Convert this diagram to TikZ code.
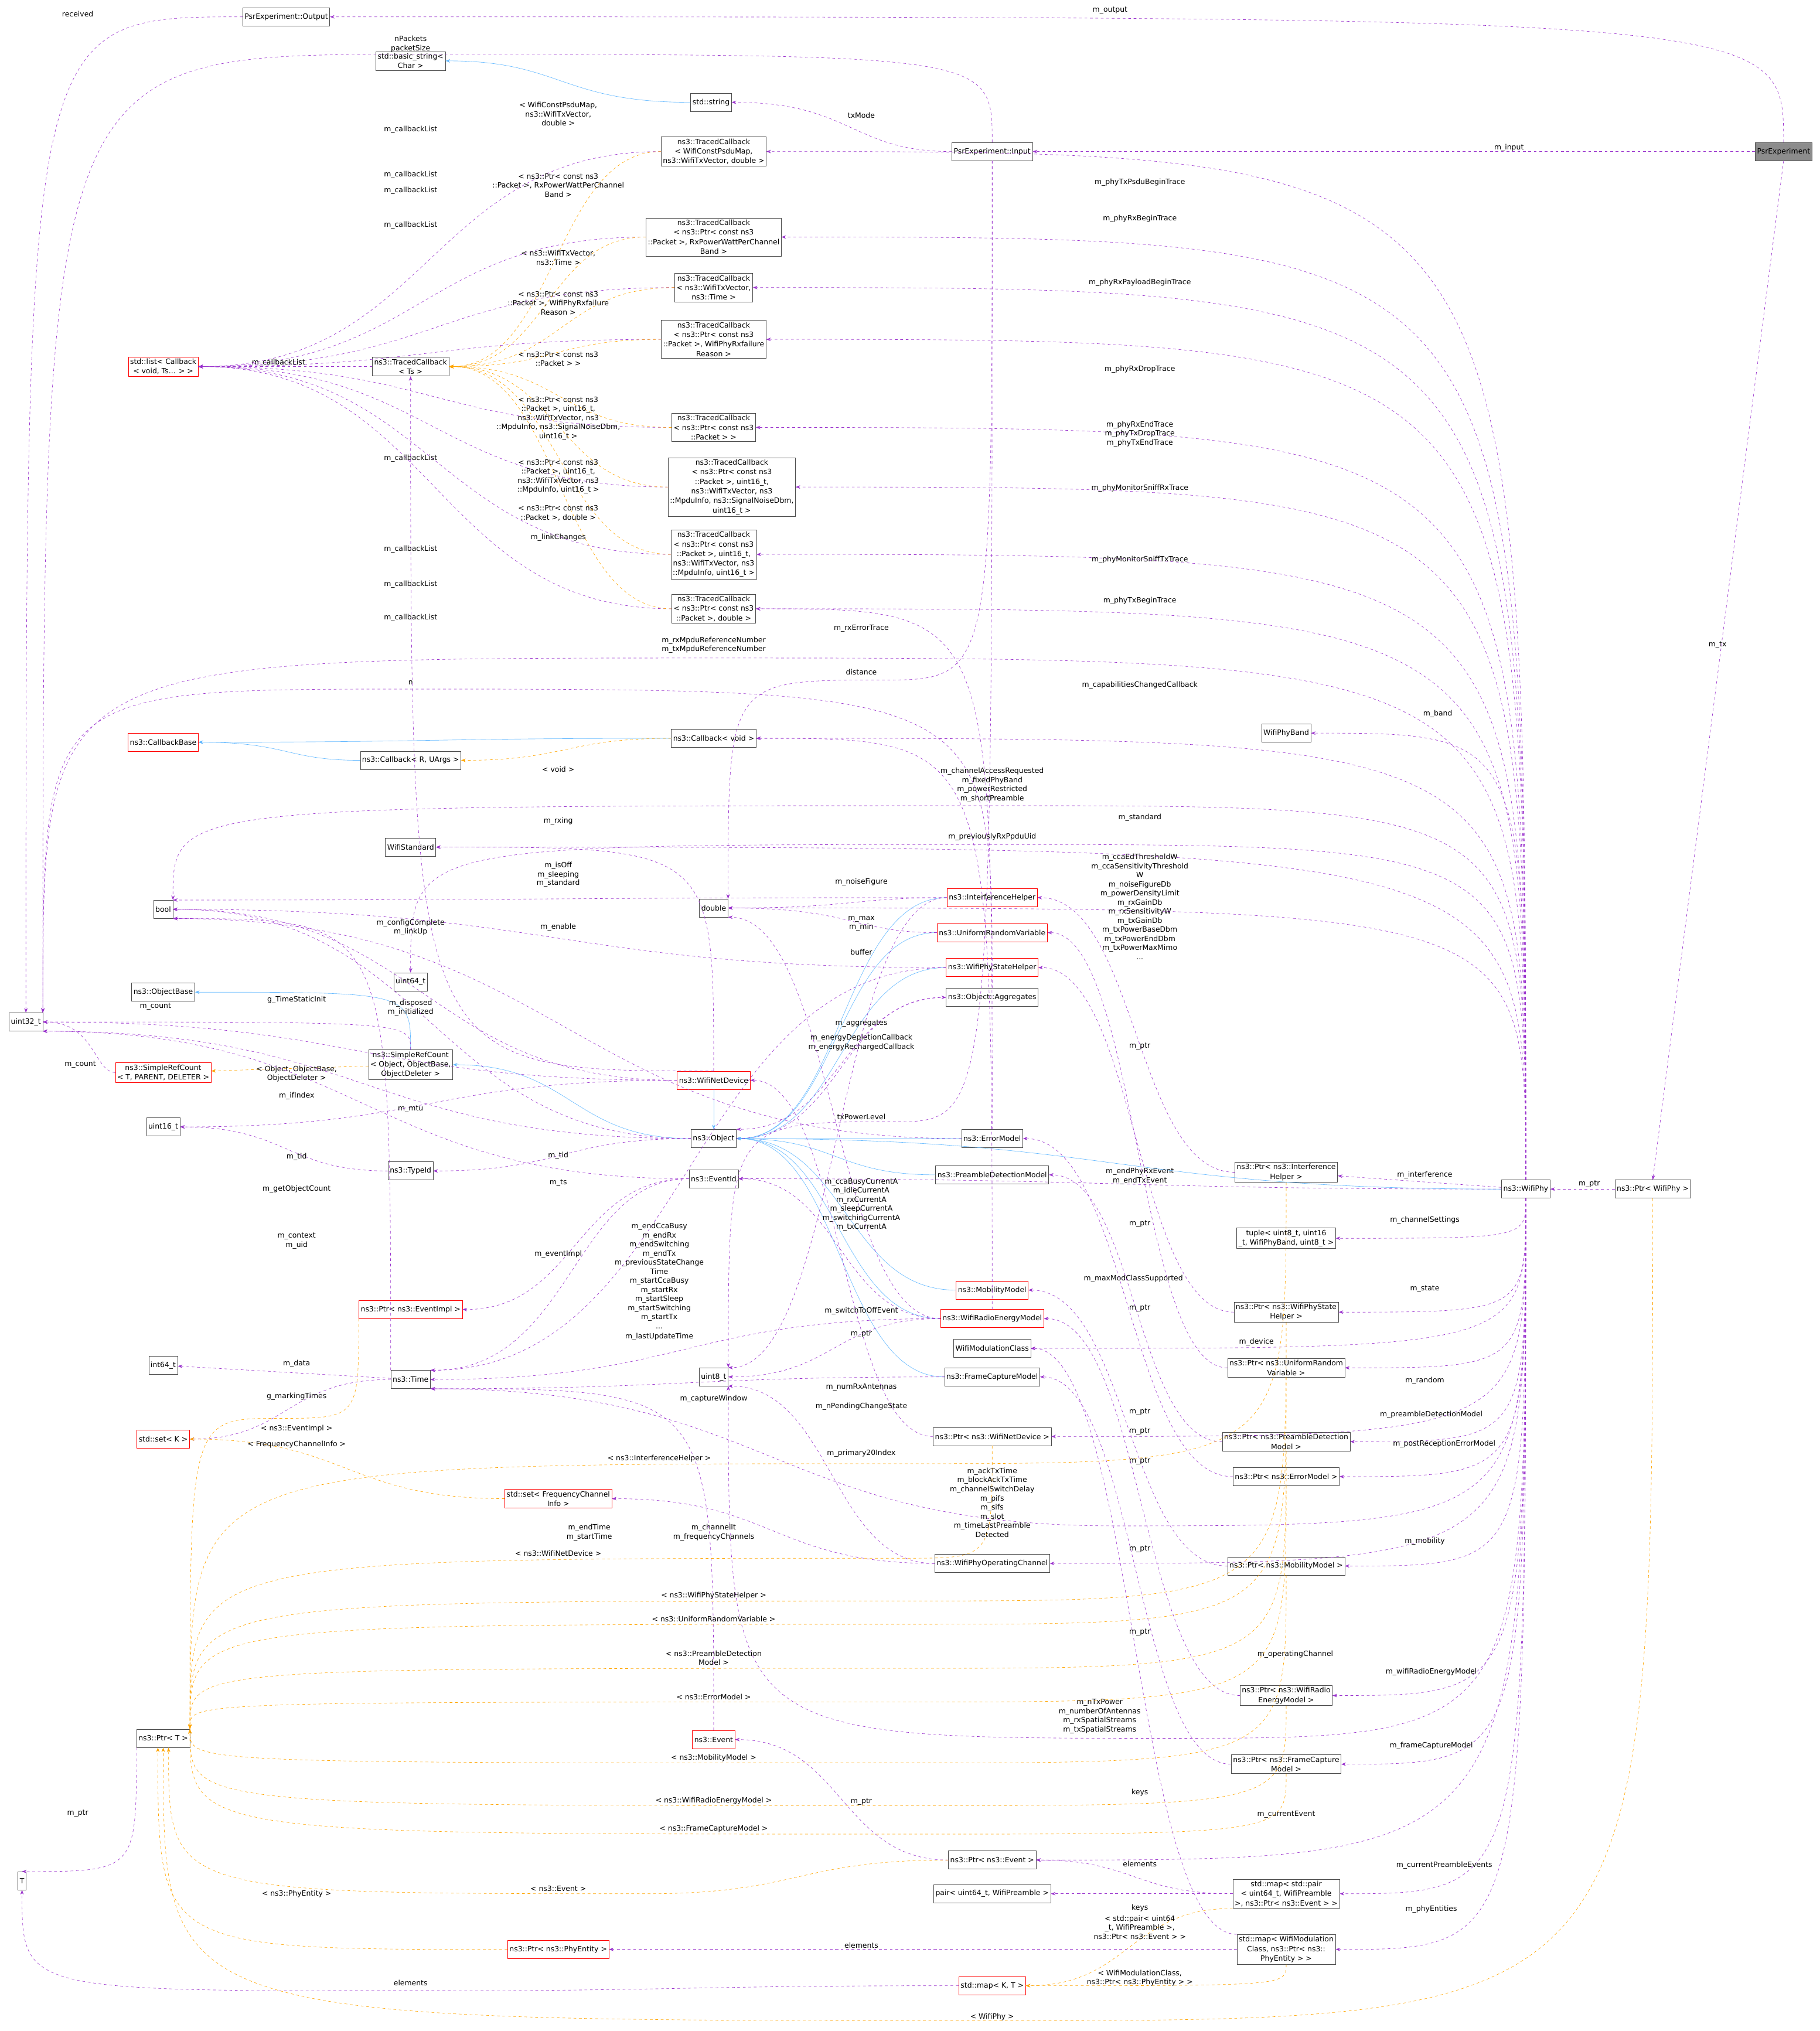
\documentclass[tikz,border=0pt]{standalone}
\usepackage{fontspec}
\setmainfont{DejaVu Sans}
\usetikzlibrary{arrows.meta,calc}
\definecolor{memcol}{HTML}{9A32CD}
\definecolor{tplcol}{HTML}{FFA500}
\definecolor{inhcol}{HTML}{63B8FF}
\begin{document}
\begin{tikzpicture}[x=0.05cm,y=-0.05cm,
  cls/.style={draw=black!70,fill=white,inner sep=2pt,align=center,minimum height=0.7cm,font=\fontsize{8}{10.5}\selectfont},
  redcls/.style={cls,draw=red},
  topcls/.style={cls,fill=black!45},
  lbl/.style={font=\fontsize{8}{10}\selectfont,align=center,inner sep=0pt},
  mem/.style={draw=memcol,dashed,-{Stealth[length=5pt]}},
  tpl/.style={draw=tplcol,dashed,-{Stealth[length=5pt]}},
  inh/.style={draw=inhcol,-{Stealth[length=5pt]}},
  hbend/.style={to path={let \p1=(\tikztostart),\p2=(\tikztotarget) in
    .. controls ({(\x1+\x2)/2},\y1) and ({(\x1+\x2)/2},\y2) .. (\tikztotarget)}},
  vbend/.style={to path={let \p1=(\tikztostart),\p2=(\tikztotarget) in
    .. controls (\x1,\y2) .. (\tikztotarget)}},
  hvbend/.style={to path={let \p1=(\tikztostart),\p2=(\tikztotarget) in
    .. controls (\x2,\y1) .. (\tikztotarget)}}]
\useasboundingbox (0,0) rectangle (1405,1568);

% classes
\node[topcls] (psr) at (1377,117) {PsrExperiment};
\node[cls] (psrout) at (221,13) {PsrExperiment::Output};
\node[cls] (psrin) at (766,117) {PsrExperiment::Input};
\node[cls] (bstr) at (317,47) {std::basic\_string\textless\\Char \textgreater};
\node[cls] (str) at (549,79) {std::string};
\node[cls] (tcpsdu) at (551,117) {ns3::TracedCallback\\\textless\ WifiConstPsduMap,\\ns3::WifiTxVector, double \textgreater};
\node[cls] (tcrxpow) at (551,183) {ns3::TracedCallback\\\textless\ ns3::Ptr\textless\ const ns3\\::Packet \textgreater, RxPowerWattPerChannel\\Band \textgreater};
\node[cls] (tctxv) at (551,222) {ns3::TracedCallback\\\textless\ ns3::WifiTxVector,\\ns3::Time \textgreater};
\node[cls] (tcfail) at (551,262) {ns3::TracedCallback\\\textless\ ns3::Ptr\textless\ const ns3\\::Packet \textgreater, WifiPhyRxfailure\\Reason \textgreater};
\node[redcls] (list) at (126,283) {std::list\textless\ Callback\\\textless\ void, Ts... \textgreater\ \textgreater};
\node[cls] (tcts) at (317,283) {ns3::TracedCallback\\\textless\ Ts \textgreater};
\node[cls] (tcpkt) at (551,330) {ns3::TracedCallback\\\textless\ ns3::Ptr\textless\ const ns3\\::Packet \textgreater\ \textgreater};
\node[cls] (tcsniffrx) at (565,376) {ns3::TracedCallback\\\textless\ ns3::Ptr\textless\ const ns3\\::Packet \textgreater, uint16\_t,\\ns3::WifiTxVector, ns3\\::MpduInfo, ns3::SignalNoiseDbm,\\uint16\_t \textgreater};
\node[cls] (tcsnifftx) at (551,428) {ns3::TracedCallback\\\textless\ ns3::Ptr\textless\ const ns3\\::Packet \textgreater, uint16\_t,\\ns3::WifiTxVector, ns3\\::MpduInfo, uint16\_t \textgreater};
\node[cls] (tcdbl) at (551,470) {ns3::TracedCallback\\\textless\ ns3::Ptr\textless\ const ns3\\::Packet \textgreater, double \textgreater};
\node[redcls] (cbbase) at (126,573) {ns3::CallbackBase};
\node[cls] (cbr) at (317,587) {ns3::Callback\textless\ R, UArgs \textgreater};
\node[cls] (cbvoid) at (551,570) {ns3::Callback\textless\ void \textgreater};
\node[cls] (phyband) at (993,566) {WifiPhyBand};
\node[cls] (stdwifi) at (317,654) {WifiStandard};
\node[cls] (bool) at (126,702) {bool};
\node[cls] (dbl) at (551,701) {double};
\node[redcls] (intf) at (766,693) {ns3::InterferenceHelper};
\node[redcls] (urv) at (766,720) {ns3::UniformRandomVariable};
\node[redcls] (sth) at (766,747) {ns3::WifiPhyStateHelper};
\node[cls] (aggr) at (766,770) {ns3::Object::Aggregates};
\node[cls] (u64) at (317,758) {uint64\_t};
\node[cls] (objbase) at (126,766) {ns3::ObjectBase};
\node[cls] (u32) at (20,789) {uint32\_t};
\node[redcls] (srct) at (126,828) {ns3::SimpleRefCount\\\textless\ T, PARENT, DELETER \textgreater};
\node[cls] (srcobj) at (317,822) {ns3::SimpleRefCount\\\textless\ Object, ObjectBase,\\ObjectDeleter \textgreater};
\node[redcls] (netdev) at (551,834) {ns3::WifiNetDevice};
\node[cls] (u16) at (126,870) {uint16\_t};
\node[cls] (obj) at (551,879) {ns3::Object};
\node[cls] (errm) at (766,879) {ns3::ErrorModel};
\node[cls] (typeid) at (317,904) {ns3::TypeId};
\node[cls] (eventid) at (551,910) {ns3::EventId};
\node[cls] (pdm) at (766,907) {ns3::PreambleDetectionModel};
\node[cls] (pintf) at (993,905) {ns3::Ptr\textless\ ns3::Interference\\Helper \textgreater};
\node[cls] (phy) at (1178,918) {ns3::WifiPhy};
\node[cls] (pphy) at (1276,918) {ns3::Ptr\textless\ WifiPhy \textgreater};
\node[cls] (tuple) at (993,956) {tuple\textless\ uint8\_t, uint16\\\_t, WifiPhyBand, uint8\_t \textgreater};
\node[redcls] (mob) at (766,996) {ns3::MobilityModel};
\node[redcls] (wrem) at (766,1018) {ns3::WifiRadioEnergyModel};
\node[cls] (psth) at (993,1013) {ns3::Ptr\textless\ ns3::WifiPhyState\\Helper \textgreater};
\node[redcls] (peimpl) at (317,1011) {ns3::Ptr\textless\ ns3::EventImpl \textgreater};
\node[cls] (wmc) at (766,1041) {WifiModulationClass};
\node[cls] (i64) at (126,1054) {int64\_t};
\node[cls] (time) at (317,1065) {ns3::Time};
\node[cls] (u8) at (551,1063) {uint8\_t};
\node[cls] (fcm) at (766,1063) {ns3::FrameCaptureModel};
\node[cls] (purv) at (993,1056) {ns3::Ptr\textless\ ns3::UniformRandom\\Variable \textgreater};
\node[redcls] (setk) at (126,1111) {std::set\textless\ K \textgreater};
\node[cls] (pnd) at (766,1109) {ns3::Ptr\textless\ ns3::WifiNetDevice \textgreater};
\node[cls] (ppdm) at (993,1113) {ns3::Ptr\textless\ ns3::PreambleDetection\\Model \textgreater};
\node[cls] (perr) at (993,1140) {ns3::Ptr\textless\ ns3::ErrorModel \textgreater};
\node[redcls] (setfci) at (431,1157) {std::set\textless\ FrequencyChannel\\Info \textgreater};
\node[cls] (opch) at (766,1207) {ns3::WifiPhyOperatingChannel};
\node[cls] (pmob) at (993,1209) {ns3::Ptr\textless\ ns3::MobilityModel \textgreater};
\node[cls] (ptrt) at (126,1342) {ns3::Ptr\textless\ T \textgreater};
\node[redcls] (event) at (551,1343) {ns3::Event};
\node[cls] (pwrem) at (993,1309) {ns3::Ptr\textless\ ns3::WifiRadio\\EnergyModel \textgreater};
\node[cls] (pfcm) at (993,1362) {ns3::Ptr\textless\ ns3::FrameCapture\\Model \textgreater};
\node[cls] (tt) at (17,1452) {T};
\node[cls] (pev) at (766,1436) {ns3::Ptr\textless\ ns3::Event \textgreater};
\node[cls] (pair) at (766,1462) {pair\textless\ uint64\_t, WifiPreamble \textgreater};
\node[cls] (mapev) at (993,1462) {std::map\textless\ std::pair\\\textless\ uint64\_t, WifiPreamble\\ \textgreater, ns3::Ptr\textless\ ns3::Event \textgreater\ \textgreater};
\node[redcls] (pphe) at (431,1505) {ns3::Ptr\textless\ ns3::PhyEntity \textgreater};
\node[cls] (mapmc) at (993,1505) {std::map\textless\ WifiModulation\\Class, ns3::Ptr\textless\ ns3::\\PhyEntity \textgreater\ \textgreater};
\node[redcls] (mapkt) at (766,1533) {std::map\textless\ K, T \textgreater};

% PsrExperiment members
\draw[mem] (psr.north) to[vbend] (psrout.east);
\draw[mem] (psr) -- (psrin);
\draw[mem] (psr.south) -- (pphy.north);
\draw[mem] (psrout.west) to[hvbend] (u32.north);
\draw[mem] (psrin.north) to[vbend] (317,42) to[hvbend] (u32.north east);
\draw[mem] (psrin) to[hbend] (str);
\draw[mem] (psrin.south) to[vbend] (680,525) to[hvbend] (dbl.north east);
\draw[mem] (psrin.south) to[vbend] (690,866) to[hvbend] (u8.north east);
\node[lbl] at (857,8) {m\_output};
\node[lbl] at (1165,114) {m\_input};
\node[lbl] at (1326,498) {m\_tx};
\node[lbl] at (60,11) {received};
\node[lbl] at (317,34) {nPackets\\packetSize};
\node[lbl] at (665,89) {txMode};
\node[lbl] at (665,519) {distance};
\node[lbl] at (665,862) {txPowerLevel};

% callback lists
\foreach \tc in {tcpsdu,tcrxpow,tctxv,tcfail,tcpkt,tcsniffrx,tcsnifftx,tcdbl}
  \draw[mem] (\tc.west) to[hbend] (list.east);
\draw[mem] (tcts) -- (list);
\node[lbl] at (317,100) {m\_callbackList};
\node[lbl] at (317,135) {m\_callbackList};
\node[lbl] at (317,147) {m\_callbackList};
\node[lbl] at (317,174) {m\_callbackList};
\node[lbl] at (215,280) {m\_callbackList};
\node[lbl] at (317,354) {m\_callbackList};
\node[lbl] at (317,424) {m\_callbackList};
\node[lbl] at (317,451) {m\_callbackList};
\node[lbl] at (317,477) {m\_callbackList};

% traced callback instances
\foreach \tc in {tcpsdu,tcrxpow,tctxv,tcfail,tcpkt,tcsniffrx,tcsnifftx,tcdbl}
  \draw[tpl] (\tc.west) to[hbend] (tcts.east);
\node[lbl] at (431,88) {\textless\ WifiConstPsduMap,\\ns3::WifiTxVector,\\double \textgreater};
\node[lbl] at (431,143) {\textless\ ns3::Ptr\textless\ const ns3\\::Packet \textgreater, RxPowerWattPerChannel\\Band \textgreater};
\node[lbl] at (431,199) {\textless\ ns3::WifiTxVector,\\ns3::Time \textgreater};
\node[lbl] at (431,234) {\textless\ ns3::Ptr\textless\ const ns3\\::Packet \textgreater, WifiPhyRxfailure\\Reason \textgreater};
\node[lbl] at (431,277) {\textless\ ns3::Ptr\textless\ const ns3\\::Packet \textgreater\ \textgreater};
\node[lbl] at (431,323) {\textless\ ns3::Ptr\textless\ const ns3\\::Packet \textgreater, uint16\_t,\\ns3::WifiTxVector, ns3\\::MpduInfo, ns3::SignalNoiseDbm,\\uint16\_t \textgreater};
\node[lbl] at (431,368) {\textless\ ns3::Ptr\textless\ const ns3\\::Packet \textgreater, uint16\_t,\\ns3::WifiTxVector, ns3\\::MpduInfo, uint16\_t \textgreater};
\node[lbl] at (431,396) {\textless\ ns3::Ptr\textless\ const ns3\\::Packet \textgreater, double \textgreater};

% WifiPhy members
\foreach \tgt in {tcpsdu,tcrxpow,tctxv,tcfail,tcpkt,tcsniffrx,tcsnifftx,tcdbl,cbvoid,phyband,stdwifi,dbl}
  \draw[mem] (phy.north) to[vbend] (\tgt.east);
\draw[mem] (phy.north) to[vbend] (551,508) to[hvbend] (u32.north east);
\draw[mem] (phy.north) to[vbend] (766,622) to[hvbend] (bool.north east);
\draw[mem] (phy.north) to[vbend] (766,652) to[hvbend] (u64.north);
\foreach \tgt in {tuple,wmc,psth,pnd,purv,ppdm,perr,pmob,opch,pwrem,pfcm,pev,mapev,mapmc}
  \draw[mem] (phy.south) to[vbend] (\tgt.east);
\draw[mem] (phy.south) to[vbend] (860,1178) to[hbend] (time.south east);
\draw[mem] (phy.south) to[vbend] (900,1342) to[hvbend] (u8.south east);
\draw[mem] (phy) -- (pintf);
\draw[mem] (phy.west) to[hbend] (eventid.east);
\node[lbl] at (880,141) {m\_phyTxPsduBeginTrace};
\node[lbl] at (880,169) {m\_phyRxBeginTrace};
\node[lbl] at (880,218) {m\_phyRxPayloadBeginTrace};
\node[lbl] at (880,285) {m\_phyRxDropTrace};
\node[lbl] at (880,335) {m\_phyRxEndTrace\\m\_phyTxDropTrace\\m\_phyTxEndTrace};
\node[lbl] at (880,377) {m\_phyMonitorSniffRxTrace};
\node[lbl] at (880,432) {m\_phyMonitorSniffTxTrace};
\node[lbl] at (880,464) {m\_phyTxBeginTrace};
\node[lbl] at (551,498) {m\_rxMpduReferenceNumber\\m\_txMpduReferenceNumber};
\node[lbl] at (880,529) {m\_capabilitiesChangedCallback};
\node[lbl] at (1110,551) {m\_band};
\node[lbl] at (766,606) {m\_channelAccessRequested\\m\_fixedPhyBand\\m\_powerRestricted\\m\_shortPreamble};
\node[lbl] at (880,631) {m\_standard};
\node[lbl] at (766,646) {m\_previouslyRxPpduUid};
\node[lbl] at (880,700) {m\_ccaEdThresholdW\\m\_ccaSensitivityThreshold\\W\\m\_noiseFigureDb\\m\_powerDensityLimit\\m\_rxGainDb\\m\_rxSensitivityW\\m\_txGainDb\\m\_txPowerBaseDbm\\m\_txPowerEndDbm\\m\_txPowerMaxMimo\\...};
\node[lbl] at (1100,907) {m\_interference};
\node[lbl] at (1100,942) {m\_channelSettings};
\node[lbl] at (875,987) {m\_maxModClassSupported};
\node[lbl] at (1100,995) {m\_state};
\node[lbl] at (970,1036) {m\_device};
\node[lbl] at (1100,1066) {m\_random};
\node[lbl] at (1105,1092) {m\_preambleDetectionModel};
\node[lbl] at (1115,1115) {m\_postReceptionErrorModel};
\node[lbl] at (1100,1190) {m\_mobility};
\node[lbl] at (766,1160) {m\_ackTxTime\\m\_blockAckTxTime\\m\_channelSwitchDelay\\m\_pifs\\m\_sifs\\m\_slot\\m\_timeLastPreamble\\Detected};
\node[lbl] at (1000,1277) {m\_operatingChannel};
\node[lbl] at (1105,1291) {m\_wifiRadioEnergyModel};
\node[lbl] at (849,1325) {m\_nTxPower\\m\_numberOfAntennas\\m\_rxSpatialStreams\\m\_txSpatialStreams};
\node[lbl] at (1105,1348) {m\_frameCaptureModel};
\node[lbl] at (993,1401) {m\_currentEvent};
\node[lbl] at (1115,1440) {m\_currentPreambleEvents};
\node[lbl] at (1105,1474) {m\_phyEntities};
\node[lbl] at (880,908) {m\_endPhyRxEvent\\m\_endTxEvent};
\draw[mem] (pphy) -- (phy);
\node[lbl] at (1227,914) {m\_ptr};
\draw[tpl] (pphy.south) to[vbend] (766,1560) to[hvbend] (ptrt.south);
\node[lbl] at (766,1557) {\textless\ WifiPhy \textgreater};

% inheritance
\draw[inh] (str) to[hbend] (bstr);
\draw[inh] (cbr) to[hbend] (cbbase);
\draw[inh] (cbvoid.west) to[hbend] (cbbase.east);
\draw[inh] (srcobj.north) to[vbend] (objbase.east);
\draw[inh] (obj.west) to[hbend] (srcobj.east);
\draw[inh] (netdev) -- (obj);
\foreach \sub in {intf,urv,sth,errm,pdm,mob,wrem,fcm,phy}
  \draw[inh] (\sub.west) to[hbend] (obj.east);

% callbacks
\draw[tpl] (cbvoid.west) to[hbend] (cbr.east);
\node[lbl] at (431,594) {\textless\ void \textgreater};
\draw[mem] (wrem.north) to[vbend] (cbvoid.east);
\node[lbl] at (665,805) {m\_energyDepletionCallback\\m\_energyRechargedCallback};

% object core
\draw[mem] (srct) to[hbend] (u32);
\node[lbl] at (62,822) {m\_count};
\draw[mem] (srcobj.north) to[vbend] (u32.east);
\node[lbl] at (120,777) {m\_count};
\draw[tpl] (srcobj) -- (srct);
\node[lbl] at (229,829) {\textless\ Object, ObjectBase,\\ObjectDeleter \textgreater};
\draw[mem] (obj.west) to[hbend] (bool.east);
\node[lbl] at (317,778) {m\_disposed\\m\_initialized};
\draw[mem] (obj.west) to[hbend] (u32.south east);
\node[lbl] at (229,918) {m\_getObjectCount};
\draw[mem] (obj) to[hbend] (typeid);
\node[lbl] at (431,892) {m\_tid};
\draw[mem] (obj.east) to[hbend] (aggr.west);
\node[lbl] at (665,790) {m\_aggregates};
\draw[mem] (aggr.north) to[vbend] (317,532) to[hvbend] (u32.north east);
\node[lbl] at (317,527) {n};
\draw[mem] (aggr.west) to[hbend] (obj.north east);
\node[lbl] at (665,735) {buffer};
\draw[mem] (typeid) to[hbend] (u16);
\node[lbl] at (229,893) {m\_tid};
\draw[mem] (time.north west) to[vbend] (bool.south east);
\node[lbl] at (229,772) {g\_TimeStaticInit};
\draw[mem] (time) -- (i64);
\node[lbl] at (229,1053) {m\_data};
\draw[mem] (time) to[hbend] (setk);
\node[lbl] at (229,1078) {g\_markingTimes};

% net device
\draw[mem] (netdev.west) to[hbend] (u16.east);
\node[lbl] at (317,856) {m\_mtu};
\draw[mem] (netdev.west) to[hbend] (u32.east);
\node[lbl] at (229,846) {m\_ifIndex};
\draw[mem] (netdev.west) to[hbend] (bool.east);
\node[lbl] at (317,716) {m\_configComplete\\m\_linkUp};
\draw[mem] (netdev.north) to[vbend] (stdwifi.east);
\node[lbl] at (431,682) {m\_standard};
\draw[mem] (netdev.north) to[hvbend] (tcts.south);
\node[lbl] at (431,415) {m\_linkChanges};

% helpers
\draw[mem] (intf.west) to[hbend] (bool.north east);
\node[lbl] at (431,634) {m\_rxing};
\draw[mem] (sth.west) to[hbend] (bool.east);
\node[lbl] at (431,672) {m\_isOff\\m\_sleeping};
\draw[mem] (errm.west) to[hbend] (bool.south east);
\node[lbl] at (431,716) {m\_enable};
\draw[mem] (intf) to[hbend] (dbl);
\node[lbl] at (665,681) {m\_noiseFigure};
\draw[mem] (urv) to[hbend] (dbl);
\node[lbl] at (665,713) {m\_max\\m\_min};
\draw[mem] (errm.north) to[vbend] (tcdbl.east);
\node[lbl] at (665,485) {m\_rxErrorTrace};
\draw[mem] (wrem.west) to[hbend] (dbl.south east);
\node[lbl] at (665,930) {m\_ccaBusyCurrentA\\m\_idleCurrentA\\m\_rxCurrentA\\m\_sleepCurrentA\\m\_switchingCurrentA\\m\_txCurrentA};
\draw[mem] (sth.west) to[hbend] (time.north east);
\node[lbl] at (509,985) {m\_endCcaBusy\\m\_endRx\\m\_endSwitching\\m\_endTx\\m\_previousStateChange\\Time\\m\_startCcaBusy\\m\_startRx\\m\_startSleep\\m\_startSwitching\\m\_startTx\\...};
\draw[mem] (wrem.west) to[hbend] (eventid.east);
\node[lbl] at (665,1012) {m\_switchToOffEvent};
\draw[mem] (wrem.west) to[hbend] (time.east);
\node[lbl] at (509,1032) {m\_lastUpdateTime};
\draw[mem] (wrem.west) to[hbend] (u8.east);
\node[lbl] at (665,1086) {m\_nPendingChangeState};
\draw[mem] (intf.west) to[hbend] (u8.north east);
\node[lbl] at (665,1071) {m\_numRxAntennas};
\draw[mem] (fcm.west) to[hbend] (time.south east);
\node[lbl] at (551,1080) {m\_captureWindow};
\draw[mem] (opch.west) to[hbend] (u8.south east);
\node[lbl] at (665,1122) {m\_primary20Index};
\draw[mem] (opch.west) to[hbend] (setfci.east);
\node[lbl] at (551,1183) {m\_channelIt\\m\_frequencyChannels};
\draw[tpl] (setfci.west) to[hbend] (setk.east);
\node[lbl] at (229,1115) {\textless\ FrequencyChannelInfo \textgreater};

% events
\draw[mem] (eventid.west) to[hbend] (peimpl.east);
\node[lbl] at (431,968) {m\_eventImpl};
\draw[mem] (eventid.west) to[hbend] (u32.south east);
\node[lbl] at (229,958) {m\_context\\m\_uid};
\draw[mem] (eventid) to[hbend] (time.north east);
\node[lbl] at (431,913) {m\_ts};
\draw[mem] (event.north) to[vbend] (time.south east);
\node[lbl] at (455,1183) {m\_endTime\\m\_startTime};
\draw[mem] (pev.west) to[hbend] (event.east);
\node[lbl] at (665,1391) {m\_ptr};
\draw[tpl] (peimpl.south west) to[vbend] (215,1095) to[hvbend] (ptrt.north east);
\node[lbl] at (229,1103) {\textless\ ns3::EventImpl \textgreater};

% smart pointers
\foreach \p/\c in {pintf/intf,psth/sth,purv/urv,ppdm/pdm,perr/errm,pmob/mob,pwrem/wrem,pfcm/fcm}
  \draw[mem] (\p.west) to[hbend] (\c.east);
\draw[mem] (pnd.west) to[hbend] (netdev.east);
\node[lbl] at (880,808) {m\_ptr};
\node[lbl] at (880,945) {m\_ptr};
\node[lbl] at (880,1010) {m\_ptr};
\node[lbl] at (880,1090) {m\_ptr};
\node[lbl] at (880,1105) {m\_ptr};
\node[lbl] at (880,1128) {m\_ptr};
\node[lbl] at (880,1196) {m\_ptr};
\node[lbl] at (880,1260) {m\_ptr};
\node[lbl] at (665,1030) {m\_ptr};
\foreach \p/\ly in {pintf/1130,pnd/1203,psth/1236,purv/1254,ppdm/1288,perr/1314,pmob/1361,pwrem/1394,pfcm/1416}
  \draw[tpl] (\p.south) to[vbend] (700,\ly) to[hvbend] (ptrt.north east);
\draw[tpl] (pev.west) to[hbend] (500,1462) to[hvbend] (ptrt.-60);
\draw[tpl] (pphe.west) to[hvbend] (ptrt.-120);
\node[lbl] at (509,1126) {\textless\ ns3::InterferenceHelper \textgreater};
\node[lbl] at (431,1199) {\textless\ ns3::WifiNetDevice \textgreater};
\node[lbl] at (551,1232) {\textless\ ns3::WifiPhyStateHelper \textgreater};
\node[lbl] at (551,1250) {\textless\ ns3::UniformRandomVariable \textgreater};
\node[lbl] at (551,1280) {\textless\ ns3::PreambleDetection\\Model \textgreater};
\node[lbl] at (551,1310) {\textless\ ns3::ErrorModel \textgreater};
\node[lbl] at (551,1357) {\textless\ ns3::MobilityModel \textgreater};
\node[lbl] at (551,1390) {\textless\ ns3::WifiRadioEnergyModel \textgreater};
\node[lbl] at (551,1412) {\textless\ ns3::FrameCaptureModel \textgreater};
\node[lbl] at (431,1458) {\textless\ ns3::Event \textgreater};
\node[lbl] at (229,1462) {\textless\ ns3::PhyEntity \textgreater};

% maps
\draw[mem] (mapev.west) to[hbend] (pev.east);
\node[lbl] at (880,1439) {elements};
\draw[mem] (mapev.west) to[hbend] (pair.east);
\node[lbl] at (880,1473) {keys};
\draw[tpl] (mapev.south west) to[hbend] (mapkt.east);
\node[lbl] at (880,1488) {\textless\ std::pair\textless\ uint64\\\_t, WifiPreamble \textgreater,\\ns3::Ptr\textless\ ns3::Event \textgreater\ \textgreater};
\draw[mem] (mapmc.west) to[hbend] (pphe.east);
\node[lbl] at (665,1502) {elements};
\draw[mem] (mapmc.north west) to[hbend] (wmc.east);
\node[lbl] at (880,1384) {keys};
\draw[tpl] (mapmc.south) to[vbend] (mapkt.east);
\node[lbl] at (880,1527) {\textless\ WifiModulationClass,\\ns3::Ptr\textless\ ns3::PhyEntity \textgreater\ \textgreater};
\draw[mem] (mapkt.west) to[hbend] (317,1537) to[hvbend] (tt.south);
\node[lbl] at (317,1531) {elements};
\draw[mem] (ptrt.south west) to[vbend] (tt.north);
\node[lbl] at (60,1400) {m\_ptr};
\end{tikzpicture}
\end{document}
